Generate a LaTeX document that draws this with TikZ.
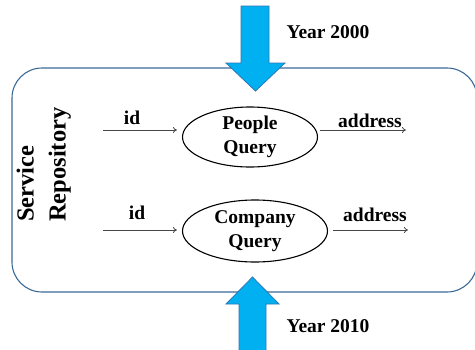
\documentclass[tikz,border=0pt]{standalone}
\usepackage{fontspec}
\setmainfont{Liberation Serif}
\usetikzlibrary{arrows.meta,shapes.geometric}
\definecolor{boxline}{RGB}{60,105,150}
\definecolor{blockfill}{RGB}{0,176,240}
\definecolor{blockline}{RGB}{46,117,182}
\definecolor{flowline}{RGB}{70,70,70}
\tikzset{
  lbl/.style={font=\bfseries\fontsize{19.5}{22}\selectfont, inner sep=0pt},
  query/.style={ellipse, draw=black, line width=1.1pt, inner sep=0pt, align=center,
                font=\bfseries\fontsize{19.5}{23.5}\selectfont},
  flow/.style={draw=flowline, line width=0.8pt, -{To[length=4pt,width=6pt]}},
  blockarrow/.style={fill=blockfill, draw=blockline, line width=0.8pt},
  repo/.style={rounded corners=30pt, draw=boxline, line width=1.1pt}
}
\begin{document}
\begin{tikzpicture}[x=1pt, y=-1pt]
\useasboundingbox (0,0) rectangle (475,349);

% repository frame
\draw[repo] (12,68) rectangle (477,292);

% rotated title, two lines left-aligned
\node[lbl, font=\bfseries\fontsize{24.5}{32}\selectfont, rotate=90, align=left, anchor=south west]
  (repo) at (71,222) {Service\\Repository};

% the two queries
\node[query, minimum width=135pt, minimum height=60pt] (people) at (250,137) {People\\Query};
\node[query, minimum width=145pt, minimum height=62pt] (company) at (255,231) {Company\\Query};

% inputs and outputs
\coordinate (inA) at (103,130);
\coordinate (inB) at (103,230);
\coordinate (outA) at (406,130);
\coordinate (outB) at (408,230);
\draw[flow, shorten >=5pt] (inA) -- (people.west |- inA);
\draw[flow, shorten >=5pt] (inB) -- (company.west |- inB);
\draw[flow, shorten <=2pt] (people.east |- outA) -- (outA);
\draw[flow, shorten <=5pt] (company.east |- outB) -- (outB);

\node[lbl] (idA) at (132,118) {id};
\node[lbl] (idB) at (137,213) {id};
\node[lbl] (addrA) at (370,121) {address};
\node[lbl] (addrB) at (375,215) {address};

% incoming block arrows
\draw[blockarrow] (241,6) -- (269,6) -- (269,63) -- (285,63) -- (255.5,91) -- (226,63) -- (241,63) -- cycle;
\draw[blockarrow] (239,352) -- (239,304) -- (226,304) -- (252.5,277) -- (279,304) -- (266,304) -- (266,352) -- cycle;

\node[lbl] (y2000) at (328,32) {Year 2000};
\node[lbl] (y2010) at (328,326) {Year 2010};
\end{tikzpicture}
\end{document}
